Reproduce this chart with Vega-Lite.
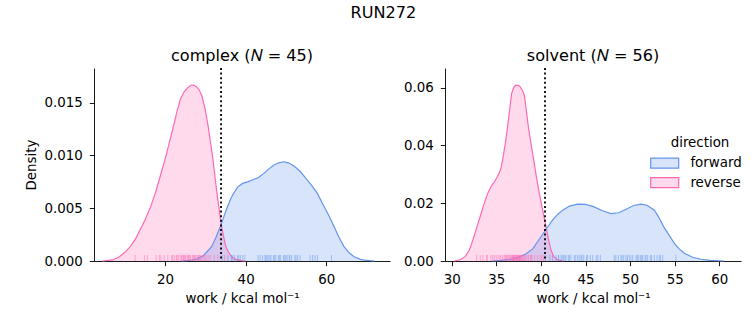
{
  "$schema": "https://vega.github.io/schema/vega-lite/v6.json",
  "padding": {"left": 24, "top": 4, "right": 8, "bottom": 5},
  "title": {"text": "RUN272", "fontSize": 16.1, "fontWeight": "normal", "font": "DejaVu Sans", "color": "#000", "anchor": "middle", "offset": 27},
  "spacing": 13,
  "resolve": {"scale": {"color": "independent"}, "legend": {"color": "independent"}},
  "datasets": {
    "complex_kde": [
      {"work": 4.5, "density": 0, "direction": "reverse"},
      {"work": 7, "density": 0.0001, "direction": "reverse"},
      {"work": 8.7, "density": 0.0004, "direction": "reverse"},
      {"work": 10, "density": 0.0008, "direction": "reverse"},
      {"work": 11.4, "density": 0.00136, "direction": "reverse"},
      {"work": 12.7, "density": 0.0021, "direction": "reverse"},
      {"work": 13.9, "density": 0.003, "direction": "reverse"},
      {"work": 15.2, "density": 0.004, "direction": "reverse"},
      {"work": 16.4, "density": 0.0051, "direction": "reverse"},
      {"work": 17.6, "density": 0.0064, "direction": "reverse"},
      {"work": 18.8, "density": 0.008, "direction": "reverse"},
      {"work": 20.0, "density": 0.0096, "direction": "reverse"},
      {"work": 21.0, "density": 0.0111, "direction": "reverse"},
      {"work": 22.06, "density": 0.0127, "direction": "reverse"},
      {"work": 23.0, "density": 0.0142, "direction": "reverse"},
      {"work": 23.8, "density": 0.0153, "direction": "reverse"},
      {"work": 24.7, "density": 0.016, "direction": "reverse"},
      {"work": 25.6, "density": 0.0164, "direction": "reverse"},
      {"work": 26.4, "density": 0.01665, "direction": "reverse"},
      {"work": 27.1, "density": 0.01667, "direction": "reverse"},
      {"work": 27.8, "density": 0.0165, "direction": "reverse"},
      {"work": 28.5, "density": 0.0162, "direction": "reverse"},
      {"work": 29.1, "density": 0.0157, "direction": "reverse"},
      {"work": 29.9, "density": 0.0145, "direction": "reverse"},
      {"work": 30.73, "density": 0.0127, "direction": "reverse"},
      {"work": 31.3, "density": 0.0112, "direction": "reverse"},
      {"work": 31.9, "density": 0.0096, "direction": "reverse"},
      {"work": 32.4, "density": 0.008, "direction": "reverse"},
      {"work": 32.9, "density": 0.0064, "direction": "reverse"},
      {"work": 33.5, "density": 0.0047, "direction": "reverse"},
      {"work": 34.05, "density": 0.00325, "direction": "reverse"},
      {"work": 34.6, "density": 0.0022, "direction": "reverse"},
      {"work": 35.1, "density": 0.00136, "direction": "reverse"},
      {"work": 35.8, "density": 0.0008, "direction": "reverse"},
      {"work": 36.6, "density": 0.0004, "direction": "reverse"},
      {"work": 37.5, "density": 0.00015, "direction": "reverse"},
      {"work": 39, "density": 0.00003, "direction": "reverse"},
      {"work": 40, "density": 0, "direction": "reverse"},
      {"work": 24, "density": 0, "direction": "forward"},
      {"work": 26, "density": 0.00005, "direction": "forward"},
      {"work": 28, "density": 0.0002, "direction": "forward"},
      {"work": 29.5, "density": 0.0005, "direction": "forward"},
      {"work": 30.5, "density": 0.0009, "direction": "forward"},
      {"work": 31.57, "density": 0.00136, "direction": "forward"},
      {"work": 32.6, "density": 0.0022, "direction": "forward"},
      {"work": 33.7, "density": 0.00325, "direction": "forward"},
      {"work": 34.6, "density": 0.0042, "direction": "forward"},
      {"work": 35.5, "density": 0.00514, "direction": "forward"},
      {"work": 36.3, "density": 0.0059, "direction": "forward"},
      {"work": 37.0, "density": 0.0064, "direction": "forward"},
      {"work": 38.0, "density": 0.007, "direction": "forward"},
      {"work": 39.25, "density": 0.00735, "direction": "forward"},
      {"work": 40.5, "density": 0.0075, "direction": "forward"},
      {"work": 41.8, "density": 0.0077, "direction": "forward"},
      {"work": 43.2, "density": 0.0079, "direction": "forward"},
      {"work": 44.5, "density": 0.0083, "direction": "forward"},
      {"work": 45.7, "density": 0.0087, "direction": "forward"},
      {"work": 47.0, "density": 0.0091, "direction": "forward"},
      {"work": 48.2, "density": 0.0093, "direction": "forward"},
      {"work": 49.4, "density": 0.0094, "direction": "forward"},
      {"work": 50.6, "density": 0.0093, "direction": "forward"},
      {"work": 52.0, "density": 0.009, "direction": "forward"},
      {"work": 53.5, "density": 0.0085, "direction": "forward"},
      {"work": 55.0, "density": 0.0078, "direction": "forward"},
      {"work": 56.5, "density": 0.0071, "direction": "forward"},
      {"work": 57.8, "density": 0.0064, "direction": "forward"},
      {"work": 59.0, "density": 0.0055, "direction": "forward"},
      {"work": 60.5, "density": 0.0044, "direction": "forward"},
      {"work": 61.96, "density": 0.00325, "direction": "forward"},
      {"work": 63.2, "density": 0.0022, "direction": "forward"},
      {"work": 64.4, "density": 0.00136, "direction": "forward"},
      {"work": 65.6, "density": 0.0008, "direction": "forward"},
      {"work": 66.9, "density": 0.0004, "direction": "forward"},
      {"work": 68.5, "density": 0.00015, "direction": "forward"},
      {"work": 70, "density": 0.00005, "direction": "forward"},
      {"work": 72, "density": 0, "direction": "forward"}
    ],
    "solvent_kde": [
      {"work": 30.3, "density": 0, "direction": "reverse"},
      {"work": 31.0, "density": 0.0005, "direction": "reverse"},
      {"work": 31.5, "density": 0.0015, "direction": "reverse"},
      {"work": 31.98, "density": 0.0038, "direction": "reverse"},
      {"work": 32.4, "density": 0.0075, "direction": "reverse"},
      {"work": 32.84, "density": 0.0119, "direction": "reverse"},
      {"work": 33.2, "density": 0.0155, "direction": "reverse"},
      {"work": 33.6, "density": 0.0195, "direction": "reverse"},
      {"work": 34.03, "density": 0.0234, "direction": "reverse"},
      {"work": 34.4, "density": 0.0257, "direction": "reverse"},
      {"work": 34.78, "density": 0.0274, "direction": "reverse"},
      {"work": 35.05, "density": 0.0288, "direction": "reverse"},
      {"work": 35.34, "density": 0.0305, "direction": "reverse"},
      {"work": 35.55, "density": 0.0325, "direction": "reverse"},
      {"work": 35.71, "density": 0.035, "direction": "reverse"},
      {"work": 36.0, "density": 0.0405, "direction": "reverse"},
      {"work": 36.27, "density": 0.0465, "direction": "reverse"},
      {"work": 36.5, "density": 0.0525, "direction": "reverse"},
      {"work": 36.72, "density": 0.058, "direction": "reverse"},
      {"work": 36.95, "density": 0.06, "direction": "reverse"},
      {"work": 37.15, "density": 0.0608, "direction": "reverse"},
      {"work": 37.4, "density": 0.0609, "direction": "reverse"},
      {"work": 37.65, "density": 0.0604, "direction": "reverse"},
      {"work": 37.9, "density": 0.0592, "direction": "reverse"},
      {"work": 38.14, "density": 0.0575, "direction": "reverse"},
      {"work": 38.35, "density": 0.0525, "direction": "reverse"},
      {"work": 38.59, "density": 0.0465, "direction": "reverse"},
      {"work": 38.9, "density": 0.0405, "direction": "reverse"},
      {"work": 39.19, "density": 0.035, "direction": "reverse"},
      {"work": 39.5, "density": 0.029, "direction": "reverse"},
      {"work": 39.82, "density": 0.0234, "direction": "reverse"},
      {"work": 40.2, "density": 0.0175, "direction": "reverse"},
      {"work": 40.57, "density": 0.0119, "direction": "reverse"},
      {"work": 40.85, "density": 0.0075, "direction": "reverse"},
      {"work": 41.13, "density": 0.0038, "direction": "reverse"},
      {"work": 41.45, "density": 0.0015, "direction": "reverse"},
      {"work": 41.8, "density": 0.0005, "direction": "reverse"},
      {"work": 42.5, "density": 0, "direction": "reverse"},
      {"work": 34.5, "density": 0, "direction": "forward"},
      {"work": 35.5, "density": 0.0002, "direction": "forward"},
      {"work": 36.5, "density": 0.0006, "direction": "forward"},
      {"work": 37.4, "density": 0.0012, "direction": "forward"},
      {"work": 38.3, "density": 0.0024, "direction": "forward"},
      {"work": 39.08, "density": 0.0042, "direction": "forward"},
      {"work": 40.01, "density": 0.0084, "direction": "forward"},
      {"work": 40.7, "density": 0.0115, "direction": "forward"},
      {"work": 41.32, "density": 0.0142, "direction": "forward"},
      {"work": 41.9, "density": 0.0162, "direction": "forward"},
      {"work": 42.44, "density": 0.0176, "direction": "forward"},
      {"work": 43.2, "density": 0.019, "direction": "forward"},
      {"work": 44.12, "density": 0.0197, "direction": "forward"},
      {"work": 45.0, "density": 0.0196, "direction": "forward"},
      {"work": 45.9, "density": 0.0188, "direction": "forward"},
      {"work": 46.9, "density": 0.0174, "direction": "forward"},
      {"work": 47.86, "density": 0.0164, "direction": "forward"},
      {"work": 48.7, "density": 0.0167, "direction": "forward"},
      {"work": 49.5, "density": 0.0178, "direction": "forward"},
      {"work": 50.4, "density": 0.0192, "direction": "forward"},
      {"work": 51.22, "density": 0.0197, "direction": "forward"},
      {"work": 51.9, "density": 0.0193, "direction": "forward"},
      {"work": 52.72, "density": 0.0176, "direction": "forward"},
      {"work": 53.2, "density": 0.0152, "direction": "forward"},
      {"work": 53.76, "density": 0.0119, "direction": "forward"},
      {"work": 54.4, "density": 0.0088, "direction": "forward"},
      {"work": 54.96, "density": 0.0061, "direction": "forward"},
      {"work": 55.5, "density": 0.0042, "direction": "forward"},
      {"work": 56.08, "density": 0.0027, "direction": "forward"},
      {"work": 57.0, "density": 0.0013, "direction": "forward"},
      {"work": 57.95, "density": 0.0006, "direction": "forward"},
      {"work": 59.0, "density": 0.0002, "direction": "forward"},
      {"work": 60.5, "density": 0, "direction": "forward"}
    ],
    "complex_rug": [
      {"work": 12.6, "direction": "reverse"}, {"work": 14.9, "direction": "reverse"}, {"work": 15.6, "direction": "reverse"},
      {"work": 17.8, "direction": "reverse"}, {"work": 18.6, "direction": "reverse"}, {"work": 19.0, "direction": "reverse"},
      {"work": 19.8, "direction": "reverse"}, {"work": 20.7, "direction": "reverse"}, {"work": 21.7, "direction": "reverse"},
      {"work": 21.9, "direction": "reverse"}, {"work": 22.3, "direction": "reverse"}, {"work": 22.8, "direction": "reverse"},
      {"work": 23.0, "direction": "reverse"}, {"work": 23.3, "direction": "reverse"}, {"work": 23.8, "direction": "reverse"},
      {"work": 24.1, "direction": "reverse"}, {"work": 24.4, "direction": "reverse"}, {"work": 24.6, "direction": "reverse"},
      {"work": 24.8, "direction": "reverse"}, {"work": 25.0, "direction": "reverse"}, {"work": 25.2, "direction": "reverse"},
      {"work": 25.6, "direction": "reverse"}, {"work": 25.8, "direction": "reverse"}, {"work": 26.0, "direction": "reverse"},
      {"work": 26.2, "direction": "reverse"}, {"work": 26.4, "direction": "reverse"}, {"work": 26.9, "direction": "reverse"},
      {"work": 27.0, "direction": "reverse"}, {"work": 27.3, "direction": "reverse"}, {"work": 27.5, "direction": "reverse"},
      {"work": 27.7, "direction": "reverse"}, {"work": 28.1, "direction": "reverse"}, {"work": 28.3, "direction": "reverse"},
      {"work": 28.5, "direction": "reverse"}, {"work": 28.7, "direction": "reverse"}, {"work": 28.9, "direction": "reverse"},
      {"work": 29.2, "direction": "reverse"}, {"work": 29.6, "direction": "reverse"}, {"work": 29.9, "direction": "reverse"},
      {"work": 30.2, "direction": "reverse"}, {"work": 30.7, "direction": "reverse"}, {"work": 31.2, "direction": "reverse"},
      {"work": 32.2, "direction": "reverse"}, {"work": 33.1, "direction": "reverse"}, {"work": 34.8, "direction": "reverse"},
      {"work": 34.2, "direction": "forward"}, {"work": 35.6, "direction": "forward"}, {"work": 36.5, "direction": "forward"},
      {"work": 36.8, "direction": "forward"}, {"work": 37.3, "direction": "forward"}, {"work": 38.0, "direction": "forward"},
      {"work": 38.3, "direction": "forward"}, {"work": 38.7, "direction": "forward"}, {"work": 39.3, "direction": "forward"},
      {"work": 39.8, "direction": "forward"}, {"work": 43.1, "direction": "forward"}, {"work": 43.6, "direction": "forward"},
      {"work": 44.2, "direction": "forward"}, {"work": 44.8, "direction": "forward"}, {"work": 45.0, "direction": "forward"},
      {"work": 45.3, "direction": "forward"}, {"work": 45.6, "direction": "forward"}, {"work": 46.0, "direction": "forward"},
      {"work": 46.3, "direction": "forward"}, {"work": 46.9, "direction": "forward"}, {"work": 47.2, "direction": "forward"},
      {"work": 47.5, "direction": "forward"}, {"work": 48.1, "direction": "forward"}, {"work": 48.4, "direction": "forward"},
      {"work": 48.7, "direction": "forward"}, {"work": 49.4, "direction": "forward"}, {"work": 49.7, "direction": "forward"},
      {"work": 50.0, "direction": "forward"}, {"work": 50.3, "direction": "forward"}, {"work": 50.8, "direction": "forward"},
      {"work": 51.0, "direction": "forward"}, {"work": 51.4, "direction": "forward"}, {"work": 52.2, "direction": "forward"},
      {"work": 52.5, "direction": "forward"}, {"work": 52.9, "direction": "forward"}, {"work": 53.5, "direction": "forward"},
      {"work": 56.0, "direction": "forward"}, {"work": 56.6, "direction": "forward"}, {"work": 57.2, "direction": "forward"},
      {"work": 57.8, "direction": "forward"}, {"work": 61.3, "direction": "forward"}
    ],
    "solvent_rug": [
      {"work": 32.8, "direction": "reverse"}, {"work": 33.2, "direction": "reverse"}, {"work": 33.5, "direction": "reverse"},
      {"work": 33.9, "direction": "reverse"}, {"work": 34.0, "direction": "reverse"}, {"work": 34.4, "direction": "reverse"},
      {"work": 34.6, "direction": "reverse"}, {"work": 34.8, "direction": "reverse"}, {"work": 35.0, "direction": "reverse"},
      {"work": 35.2, "direction": "reverse"}, {"work": 35.4, "direction": "reverse"}, {"work": 35.5, "direction": "reverse"},
      {"work": 35.7, "direction": "reverse"}, {"work": 35.9, "direction": "reverse"}, {"work": 36.05, "direction": "reverse"},
      {"work": 36.1, "direction": "reverse"}, {"work": 36.2, "direction": "reverse"}, {"work": 36.3, "direction": "reverse"},
      {"work": 36.4, "direction": "reverse"}, {"work": 36.5, "direction": "reverse"}, {"work": 36.6, "direction": "reverse"},
      {"work": 36.7, "direction": "reverse"}, {"work": 36.8, "direction": "reverse"}, {"work": 36.85, "direction": "reverse"},
      {"work": 36.9, "direction": "reverse"}, {"work": 36.95, "direction": "reverse"}, {"work": 37.0, "direction": "reverse"},
      {"work": 37.05, "direction": "reverse"}, {"work": 37.1, "direction": "reverse"}, {"work": 37.2, "direction": "reverse"},
      {"work": 37.25, "direction": "reverse"}, {"work": 37.3, "direction": "reverse"}, {"work": 37.35, "direction": "reverse"},
      {"work": 37.4, "direction": "reverse"}, {"work": 37.5, "direction": "reverse"}, {"work": 37.55, "direction": "reverse"},
      {"work": 37.6, "direction": "reverse"}, {"work": 37.65, "direction": "reverse"}, {"work": 37.7, "direction": "reverse"},
      {"work": 37.8, "direction": "reverse"}, {"work": 37.85, "direction": "reverse"}, {"work": 37.9, "direction": "reverse"},
      {"work": 38.0, "direction": "reverse"}, {"work": 38.1, "direction": "reverse"}, {"work": 38.2, "direction": "reverse"},
      {"work": 38.3, "direction": "reverse"}, {"work": 38.45, "direction": "reverse"}, {"work": 38.6, "direction": "reverse"},
      {"work": 38.8, "direction": "reverse"}, {"work": 38.9, "direction": "reverse"}, {"work": 39.0, "direction": "reverse"},
      {"work": 39.3, "direction": "reverse"}, {"work": 39.6, "direction": "reverse"}, {"work": 39.9, "direction": "reverse"},
      {"work": 40.1, "direction": "reverse"}, {"work": 40.3, "direction": "reverse"},
      {"work": 40.5, "direction": "forward"}, {"work": 41.0, "direction": "forward"}, {"work": 41.3, "direction": "forward"},
      {"work": 41.69, "direction": "forward"}, {"work": 41.95, "direction": "forward"}, {"work": 42.0, "direction": "forward"},
      {"work": 42.25, "direction": "forward"}, {"work": 42.4, "direction": "forward"}, {"work": 42.55, "direction": "forward"},
      {"work": 42.7, "direction": "forward"}, {"work": 42.81, "direction": "forward"}, {"work": 43.07, "direction": "forward"},
      {"work": 43.2, "direction": "forward"}, {"work": 43.37, "direction": "forward"}, {"work": 43.74, "direction": "forward"},
      {"work": 43.9, "direction": "forward"}, {"work": 44.12, "direction": "forward"}, {"work": 44.3, "direction": "forward"},
      {"work": 44.5, "direction": "forward"}, {"work": 44.6, "direction": "forward"}, {"work": 44.8, "direction": "forward"},
      {"work": 45.1, "direction": "forward"}, {"work": 45.24, "direction": "forward"}, {"work": 45.54, "direction": "forward"},
      {"work": 45.81, "direction": "forward"}, {"work": 46.2, "direction": "forward"}, {"work": 46.37, "direction": "forward"},
      {"work": 46.66, "direction": "forward"}, {"work": 48.23, "direction": "forward"}, {"work": 48.4, "direction": "forward"},
      {"work": 48.68, "direction": "forward"}, {"work": 48.98, "direction": "forward"}, {"work": 49.1, "direction": "forward"},
      {"work": 49.28, "direction": "forward"}, {"work": 49.54, "direction": "forward"}, {"work": 49.7, "direction": "forward"},
      {"work": 49.91, "direction": "forward"}, {"work": 50.1, "direction": "forward"}, {"work": 50.29, "direction": "forward"},
      {"work": 50.66, "direction": "forward"}, {"work": 50.8, "direction": "forward"}, {"work": 50.92, "direction": "forward"},
      {"work": 51.14, "direction": "forward"}, {"work": 51.3, "direction": "forward"}, {"work": 51.41, "direction": "forward"},
      {"work": 51.67, "direction": "forward"}, {"work": 51.8, "direction": "forward"}, {"work": 51.97, "direction": "forward"},
      {"work": 52.26, "direction": "forward"}, {"work": 52.4, "direction": "forward"}, {"work": 52.71, "direction": "forward"},
      {"work": 53.01, "direction": "forward"}, {"work": 53.27, "direction": "forward"}, {"work": 53.4, "direction": "forward"},
      {"work": 53.65, "direction": "forward"}, {"work": 55.14, "direction": "forward"}
    ]
  },
  "hconcat": [
    {
      "width": 296,
      "height": 193,
      "title": {"text": "complex (𝑁 = 45)"},
      "layer": [
        {
          "data": {"name": "complex_kde"},
          "mark": {"type": "area", "fillOpacity": 0.25, "line": {"strokeWidth": 1.2}},
          "encoding": {
            "x": {"field": "work", "type": "quantitative", "scale": {"domain": [2.4, 75.8], "nice": false, "zero": false}, "axis": {"values": [20, 40, 60], "title": "work / kcal mol⁻¹"}},
            "y": {"field": "density", "type": "quantitative", "stack": null, "scale": {"domain": [0, 0.01828], "nice": false}, "axis": {"values": [0, 0.005, 0.01, 0.015], "format": ".3f", "title": "Density"}},
            "color": {"field": "direction", "type": "nominal", "scale": {"domain": ["forward", "reverse"], "range": ["#6495ED", "#FF69B4"]}, "legend": null}
          }
        },
        {
          "data": {"name": "complex_rug"},
          "mark": {"type": "rule", "strokeWidth": 1, "opacity": 0.5},
          "encoding": {
            "x": {"field": "work", "type": "quantitative", "axis": {"values": [20, 40, 60], "title": "work / kcal mol⁻¹"}},
            "y": {"datum": 0, "axis": {"values": [0, 0.005, 0.01, 0.015], "format": ".3f", "title": "Density"}},
            "y2": {"datum": 0.00057},
            "color": {"field": "direction", "type": "nominal", "legend": null}
          }
        },
        {
          "data": {"values": [{"work": 33.9}]},
          "mark": {"type": "rule", "color": "#000", "strokeWidth": 1.8, "strokeDash": [2, 2.6]},
          "encoding": {"x": {"field": "work", "type": "quantitative", "axis": {"values": [20, 40, 60], "title": "work / kcal mol⁻¹"}}}
        }
      ]
    },
    {
      "width": 296,
      "height": 193,
      "title": {"text": "solvent (𝑁 = 56)"},
      "layer": [
        {
          "data": {"name": "solvent_kde"},
          "mark": {"type": "area", "fillOpacity": 0.25, "line": {"strokeWidth": 1.2}},
          "encoding": {
            "x": {"field": "work", "type": "quantitative", "scale": {"domain": [29.25, 62.43], "nice": false, "zero": false}, "axis": {"values": [30, 35, 40, 45, 50, 55, 60], "title": "work / kcal mol⁻¹"}},
            "y": {"field": "density", "type": "quantitative", "stack": null, "scale": {"domain": [0, 0.0668], "nice": false}, "axis": {"values": [0, 0.02, 0.04, 0.06], "format": ".2f", "title": null}},
            "color": {
              "field": "direction", "type": "nominal",
              "scale": {"domain": ["forward", "reverse"], "range": ["#6495ED", "#FF69B4"]},
              "legend": {
                "title": "direction", "orient": "none", "legendX": 213, "legendY": 68,
                "titleAnchor": "middle",
                "labelFontSize": 13.4, "titleFontSize": 13.4, "labelFont": "DejaVu Sans", "titleFont": "DejaVu Sans",
                "titleFontWeight": "normal", "labelColor": "#000", "titleColor": "#000",
                "labelOffset": 19, "rowPadding": 3.6, "titlePadding": 7, "padding": 0,
                "symbolType": "M-2.8,-1H2.8V1H-2.8Z", "symbolSize": 100,
                "encode": {
                  "symbols": {"update": {
                    "fill": [{"test": "datum.value === 'forward'", "value": "#6495ED"}, {"value": "#FF69B4"}],
                    "stroke": [{"test": "datum.value === 'forward'", "value": "#6495ED"}, {"value": "#FF69B4"}],
                    "fillOpacity": {"value": 0.25},
                    "strokeOpacity": {"value": 1},
                    "strokeWidth": {"value": 1.2},
                    "opacity": {"value": 1}
                  }}
                }
              }
            }
          }
        },
        {
          "data": {"name": "solvent_rug"},
          "mark": {"type": "rule", "strokeWidth": 1, "opacity": 0.5},
          "encoding": {
            "x": {"field": "work", "type": "quantitative", "axis": {"values": [30, 35, 40, 45, 50, 55, 60], "title": "work / kcal mol⁻¹"}},
            "y": {"datum": 0, "axis": {"values": [0, 0.02, 0.04, 0.06], "format": ".2f", "title": null}},
            "y2": {"datum": 0.0021},
            "color": {"field": "direction", "type": "nominal"}
          }
        },
        {
          "data": {"values": [{"work": 40.46}]},
          "mark": {"type": "rule", "color": "#000", "strokeWidth": 1.8, "strokeDash": [2, 2.6]},
          "encoding": {"x": {"field": "work", "type": "quantitative", "axis": {"values": [30, 35, 40, 45, 50, 55, 60], "title": "work / kcal mol⁻¹"}}}
        }
      ]
    }
  ],
  "config": {
    "font": "DejaVu Sans",
    "view": {"stroke": null},
    "axis": {
      "grid": false, "domainColor": "#000", "domainWidth": 0.9, "tickColor": "#000", "tickWidth": 0.9, "tickSize": 4.7,
      "labelColor": "#000", "labelFontSize": 13.4, "labelFont": "DejaVu Sans", "labelPadding": 7,
      "titleColor": "#000", "titleFontSize": 13.4, "titleFont": "DejaVu Sans", "titleFontWeight": "normal", "titlePadding": 5
    },
    "axisY": {"titlePadding": 5},
    "title": {"fontSize": 16.1, "fontWeight": "normal", "font": "DejaVu Sans", "color": "#000", "offset": 3},
    "legend": {
      "labelFontSize": 13.4, "titleFontSize": 13.4, "labelFont": "DejaVu Sans", "titleFont": "DejaVu Sans",
      "titleFontWeight": "normal", "labelColor": "#000", "titleColor": "#000", "padding": 0, "rowPadding": 3.6, "titlePadding": 7, "labelOffset": 19
    }
  }
}
